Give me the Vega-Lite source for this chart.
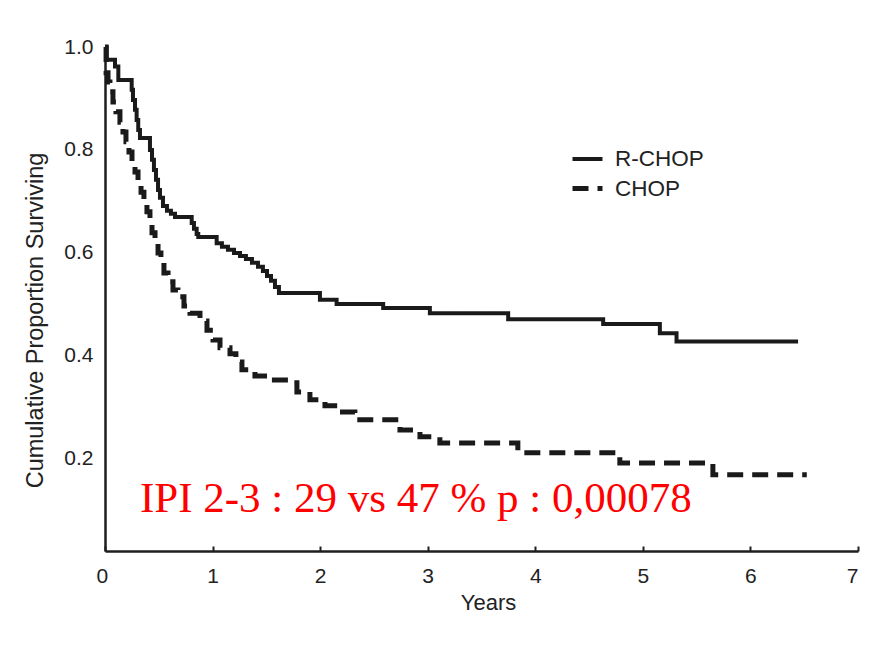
{
  "$schema": "https://vega.github.io/schema/vega-lite/v6.json",
  "autosize": {"type": "none"},
  "width": 753,
  "height": 504,
  "padding": {"left": 105, "top": 47, "right": 18, "bottom": 101},
  "background": "white",
  "config": {
    "view": {"stroke": null},
    "font": "Liberation Sans",
    "axis": {"grid": false, "domainColor": "#1e1e1e", "domainWidth": 2.5, "labelColor": "#222", "titleColor": "#222", "labelFont": "Liberation Sans", "titleFont": "Liberation Sans", "titleFontWeight": "normal"}
  },
  "datasets": {
    "km": [
      {"group": "R-CHOP", "t": 0.0, "s": 1.0},
      {"group": "R-CHOP", "t": 0.016, "s": 0.975},
      {"group": "R-CHOP", "t": 0.093, "s": 0.962},
      {"group": "R-CHOP", "t": 0.124, "s": 0.936},
      {"group": "R-CHOP", "t": 0.248, "s": 0.917},
      {"group": "R-CHOP", "t": 0.260, "s": 0.897},
      {"group": "R-CHOP", "t": 0.279, "s": 0.878},
      {"group": "R-CHOP", "t": 0.294, "s": 0.858},
      {"group": "R-CHOP", "t": 0.309, "s": 0.839},
      {"group": "R-CHOP", "t": 0.325, "s": 0.823},
      {"group": "R-CHOP", "t": 0.418, "s": 0.800},
      {"group": "R-CHOP", "t": 0.437, "s": 0.781},
      {"group": "R-CHOP", "t": 0.455, "s": 0.761},
      {"group": "R-CHOP", "t": 0.474, "s": 0.742},
      {"group": "R-CHOP", "t": 0.493, "s": 0.722},
      {"group": "R-CHOP", "t": 0.511, "s": 0.707},
      {"group": "R-CHOP", "t": 0.539, "s": 0.691},
      {"group": "R-CHOP", "t": 0.576, "s": 0.682},
      {"group": "R-CHOP", "t": 0.613, "s": 0.676},
      {"group": "R-CHOP", "t": 0.651, "s": 0.670},
      {"group": "R-CHOP", "t": 0.806, "s": 0.658},
      {"group": "R-CHOP", "t": 0.827, "s": 0.647},
      {"group": "R-CHOP", "t": 0.852, "s": 0.637},
      {"group": "R-CHOP", "t": 0.867, "s": 0.631},
      {"group": "R-CHOP", "t": 1.038, "s": 0.619},
      {"group": "R-CHOP", "t": 1.087, "s": 0.612},
      {"group": "R-CHOP", "t": 1.143, "s": 0.606},
      {"group": "R-CHOP", "t": 1.199, "s": 0.600},
      {"group": "R-CHOP", "t": 1.255, "s": 0.594},
      {"group": "R-CHOP", "t": 1.310, "s": 0.588},
      {"group": "R-CHOP", "t": 1.366, "s": 0.581},
      {"group": "R-CHOP", "t": 1.422, "s": 0.573},
      {"group": "R-CHOP", "t": 1.468, "s": 0.565},
      {"group": "R-CHOP", "t": 1.506, "s": 0.555},
      {"group": "R-CHOP", "t": 1.543, "s": 0.546},
      {"group": "R-CHOP", "t": 1.580, "s": 0.534},
      {"group": "R-CHOP", "t": 1.617, "s": 0.522},
      {"group": "R-CHOP", "t": 1.998, "s": 0.509},
      {"group": "R-CHOP", "t": 2.153, "s": 0.501},
      {"group": "R-CHOP", "t": 2.586, "s": 0.493},
      {"group": "R-CHOP", "t": 3.020, "s": 0.483},
      {"group": "R-CHOP", "t": 3.748, "s": 0.471},
      {"group": "R-CHOP", "t": 4.631, "s": 0.462},
      {"group": "R-CHOP", "t": 5.158, "s": 0.444},
      {"group": "R-CHOP", "t": 5.313, "s": 0.428},
      {"group": "R-CHOP", "t": 6.443, "s": 0.428},
      {"group": "CHOP", "t": 0.0, "s": 1.0},
      {"group": "CHOP", "t": 0.010, "s": 0.950},
      {"group": "CHOP", "t": 0.028, "s": 0.932},
      {"group": "CHOP", "t": 0.046, "s": 0.913},
      {"group": "CHOP", "t": 0.074, "s": 0.893},
      {"group": "CHOP", "t": 0.102, "s": 0.874},
      {"group": "CHOP", "t": 0.139, "s": 0.854},
      {"group": "CHOP", "t": 0.167, "s": 0.835},
      {"group": "CHOP", "t": 0.195, "s": 0.816},
      {"group": "CHOP", "t": 0.223, "s": 0.796},
      {"group": "CHOP", "t": 0.251, "s": 0.777},
      {"group": "CHOP", "t": 0.279, "s": 0.757},
      {"group": "CHOP", "t": 0.307, "s": 0.738},
      {"group": "CHOP", "t": 0.335, "s": 0.718},
      {"group": "CHOP", "t": 0.362, "s": 0.699},
      {"group": "CHOP", "t": 0.390, "s": 0.680},
      {"group": "CHOP", "t": 0.418, "s": 0.658},
      {"group": "CHOP", "t": 0.437, "s": 0.639},
      {"group": "CHOP", "t": 0.465, "s": 0.619},
      {"group": "CHOP", "t": 0.493, "s": 0.600},
      {"group": "CHOP", "t": 0.520, "s": 0.581},
      {"group": "CHOP", "t": 0.548, "s": 0.561},
      {"group": "CHOP", "t": 0.586, "s": 0.544},
      {"group": "CHOP", "t": 0.632, "s": 0.528},
      {"group": "CHOP", "t": 0.678, "s": 0.515},
      {"group": "CHOP", "t": 0.734, "s": 0.497},
      {"group": "CHOP", "t": 0.790, "s": 0.483},
      {"group": "CHOP", "t": 0.883, "s": 0.468},
      {"group": "CHOP", "t": 0.948, "s": 0.450},
      {"group": "CHOP", "t": 1.004, "s": 0.431},
      {"group": "CHOP", "t": 1.069, "s": 0.416},
      {"group": "CHOP", "t": 1.162, "s": 0.404},
      {"group": "CHOP", "t": 1.217, "s": 0.388},
      {"group": "CHOP", "t": 1.273, "s": 0.373},
      {"group": "CHOP", "t": 1.394, "s": 0.361},
      {"group": "CHOP", "t": 1.533, "s": 0.353},
      {"group": "CHOP", "t": 1.719, "s": 0.348},
      {"group": "CHOP", "t": 1.784, "s": 0.330},
      {"group": "CHOP", "t": 1.905, "s": 0.315},
      {"group": "CHOP", "t": 2.045, "s": 0.303},
      {"group": "CHOP", "t": 2.184, "s": 0.291},
      {"group": "CHOP", "t": 2.323, "s": 0.276},
      {"group": "CHOP", "t": 2.742, "s": 0.256},
      {"group": "CHOP", "t": 2.928, "s": 0.243},
      {"group": "CHOP", "t": 3.113, "s": 0.231},
      {"group": "CHOP", "t": 3.838, "s": 0.212},
      {"group": "CHOP", "t": 4.786, "s": 0.192},
      {"group": "CHOP", "t": 5.651, "s": 0.169},
      {"group": "CHOP", "t": 6.524, "s": 0.169}
    ],
    "note": [
      {"label": "IPI 2-3 : 29 vs 47 % p : 0,00078", "t": 0.325, "s": 0.097}
    ]
  },
  "layer": [
    {
      "data": {"name": "km"},
      "mark": {"type": "line", "interpolate": "step-after", "color": "#1a1a1a", "clip": false},
      "encoding": {
        "x": {"field": "t", "type": "quantitative",
              "scale": {"domain": [0, 7], "nice": false, "zero": false},
              "axis": {"title": "Years", "values": [0, 1, 2, 3, 4, 5, 6, 7], "format": "d", "ticks": true, "tickSize": -5, "tickWidth": 2, "tickColor": "#1e1e1e", "labelPadding": 19, "labelFontSize": 21, "titleFontSize": 22, "titlePadding": 6, "titleX": 383,
                       "labelOffset": {"condition": {"test": "datum.value === 0", "value": -9}, "value": 0}}},
        "y": {"field": "s", "type": "quantitative",
              "scale": {"domain": [0.021, 1.0], "nice": false, "zero": false},
              "axis": {"title": "Cumulative Proportion Surviving", "values": [0.2, 0.4, 0.6, 0.8, 1.0], "format": ".1f", "ticks": false, "labelPadding": 12, "labelFontSize": 21, "titleFontSize": 23.5, "titlePadding": 16, "titleY": 273}},
        "strokeDash": {"field": "group", "type": "nominal",
              "scale": {"domain": ["R-CHOP", "CHOP"], "range": [[1, 0], [16, 9]]},
              "legend": {"title": null, "orient": "none", "legendX": 465, "legendY": 95, "symbolType": "stroke", "symbolSize": 900, "symbolStrokeWidth": 4, "symbolStrokeColor": "#1a1a1a", "labelFontSize": 22.5, "labelColor": "#222", "labelOffset": 10, "rowPadding": -3, "labelFont": "Liberation Sans"}},
        "strokeWidth": {"field": "group", "type": "nominal",
              "scale": {"domain": ["R-CHOP", "CHOP"], "range": [4, 5]},
              "legend": null}
      }
    },
    {
      "data": {"name": "note"},
      "mark": {"type": "text", "align": "left", "baseline": "alphabetic", "font": "Liberation Serif", "fontSize": 43, "color": "#ff0000"},
      "encoding": {
        "x": {"field": "t", "type": "quantitative"},
        "y": {"field": "s", "type": "quantitative"},
        "text": {"field": "label"}
      }
    }
  ]
}
